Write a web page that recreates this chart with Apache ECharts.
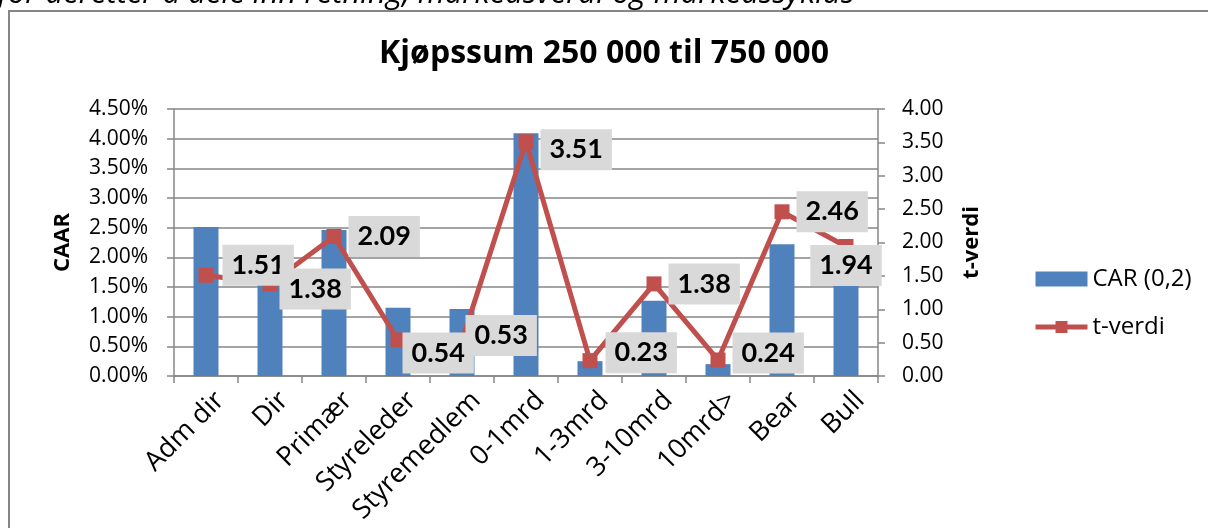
<!DOCTYPE html>
<html>
<head>
<meta charset="utf-8">
<script src="https://cdn.jsdelivr.net/npm/echarts@6/dist/echarts.min.js"></script>
<style>
  html, body { margin: 0; padding: 0; background: #ffffff; }
  #chart { width: 1208px; height: 528px; }
</style>
</head>
<body>
<div id="chart"></div>
<script>
// Categories along the x axis
const categories = ['Adm dir', 'Dir', 'Primær', 'Styreleder', 'Styremedlem',
  '0-1mrd', '1-3mrd', '3-10mrd', '10mrd>', 'Bear', 'Bull'];

// CAR (0,2), in percent
const carValues = [2.51, 1.60, 2.46, 1.15, 1.13, 4.09, 0.25, 1.27, 0.20, 2.22, 1.70];

// t-verdi per category
const tValues = [1.51, 1.38, 2.09, 0.54, 0.53, 3.51, 0.23, 1.38, 0.24, 2.46, 1.94];

// Axis scales
const leftTicks = { min: 0, max: 4.5, interval: 0.5 };
const rightTicks = { min: 0, max: 4, interval: 0.5 };

// Fine placement of the t-verdi value boxes (dx, dy in px); null = box below the point
const labelNudge = [[9, -10], [2, 5], [7, 0], [-3, 13], [-4, -5], [7, 8],
  [8, -8], [7, 0], [7, -7], [7, 0], null];

const BLUE = '#4F81BD';
const RED = '#C0504D';
const AXIS = '#868686';
const SANS = '"Open Sans", "Noto Sans", sans-serif';

const chart = echarts.init(document.getElementById('chart'), null, { renderer: 'canvas' });

const lineData = tValues.map((v, i) => {
  if (labelNudge[i]) {
    return { value: v, label: { position: 'right', distance: 0 } };
  }
  return { value: v, label: { position: 'bottom', distance: -9 } };
});

chart.setOption({
  animation: false,
  backgroundColor: '#ffffff',
  textStyle: { fontFamily: SANS, color: '#000' },
  title: {
    text: 'Kjøpssum 250 000 til 750 000',
    left: 'center',
    top: 33,
    textStyle: { fontFamily: SANS, fontWeight: 'bold', fontSize: 32, color: '#000' }
  },
  legend: {
    orient: 'vertical',
    left: 1028,
    top: 261,
    itemWidth: 52,
    itemHeight: 15,
    itemGap: 22,
    textStyle: { fontFamily: SANS, fontSize: 24, color: '#000', lineHeight: 26 },
    data: [
      { name: 'CAR (0,2)', icon: 'rect' },
      { name: 't-verdi', lineStyle: { width: 5, color: RED } }
    ]
  },
  grid: { left: 174, right: 330, top: 109, bottom: 152, containLabel: false,
    outerBoundsMode: 'none' },
  xAxis: {
    type: 'category',
    data: categories,
    axisLine: { lineStyle: { color: AXIS, width: 1.5 } },
    axisTick: { show: true, length: 7, alignWithLabel: false, lineStyle: { color: AXIS, width: 1.5 } },
    axisLabel: {
      rotate: 45, margin: 6, interval: 0,
      // an empty first line pushes each rotated name down-right, under its tick
      formatter: name => '\n' + name,
      fontSize: 27, lineHeight: 40, color: '#000', fontFamily: SANS
    },
    splitLine: { show: false }
  },
  yAxis: [
    {
      type: 'value',
      min: leftTicks.min, max: leftTicks.max, interval: leftTicks.interval,
      name: 'CAAR',
      nameLocation: 'middle',
      nameGap: 100,
      nameTextStyle: { fontFamily: SANS, fontWeight: 'bold', fontSize: 22, color: '#000' },
      axisLine: { show: true, lineStyle: { color: AXIS, width: 1.5 } },
      axisTick: { show: true, length: 7, lineStyle: { color: AXIS, width: 1.5 } },
      axisLabel: { fontSize: 21, margin: 26, color: '#000', fontFamily: SANS,
        formatter: v => v.toFixed(2) + '%' },
      splitLine: { show: true, lineStyle: { color: AXIS, width: 1.5 } }
    },
    {
      type: 'value',
      min: rightTicks.min, max: rightTicks.max, interval: rightTicks.interval,
      name: 't-verdi',
      nameLocation: 'middle',
      nameGap: 83,
      nameRotate: 90,
      nameTextStyle: { fontFamily: SANS, fontWeight: 'bold', fontSize: 22, color: '#000' },
      position: 'right',
      axisLine: { show: true, lineStyle: { color: AXIS, width: 1.5 } },
      axisTick: { show: true, length: 7, lineStyle: { color: AXIS, width: 1.5 } },
      axisLabel: { fontSize: 21, margin: 24, color: '#000', fontFamily: SANS,
        formatter: v => v.toFixed(2) },
      splitLine: { show: false }
    }
  ],
  series: [
    {
      name: 'CAR (0,2)',
      type: 'bar',
      yAxisIndex: 0,
      data: carValues,
      barWidth: 25,
      itemStyle: { color: BLUE },
      z: 2
    },
    {
      name: 't-verdi',
      type: 'line',
      yAxisIndex: 1,
      data: lineData,
      symbol: 'rect',
      symbolSize: 15,
      lineStyle: { color: RED, width: 5 },
      itemStyle: { color: RED },
      z: 3,
      label: {
        show: true,
        fontFamily: 'Lato, "Open Sans", sans-serif',
        fontWeight: 'bold',
        fontSize: 27,
        lineHeight: 27,
        color: '#000',
        backgroundColor: '#d9d9d9',
        padding: [7, 9, 7, 9],
        formatter: p => Number(p.value).toFixed(2)
      },
      labelLayout: params => {
        const n = labelNudge[params.dataIndex];
        return n ? { dx: n[0], dy: n[1] } : {};
      }
    }
  ],
  graphic: [
    {
      type: 'text',
      left: -2,
      top: -21,
      silent: true,
      style: {
        text: 'for deretter å dele inn retning, markedsverdi og markedssyklus',
        font: 'italic 31px "Open Sans", sans-serif',
        fill: '#000'
      }
    },
    {
      type: 'polyline',
      silent: true,
      shape: { points: [[9, 600], [9, 11], [1220, 11]] },
      style: { stroke: AXIS, lineWidth: 2, fill: null }
    }
  ]
});
</script>
</body>
</html>
